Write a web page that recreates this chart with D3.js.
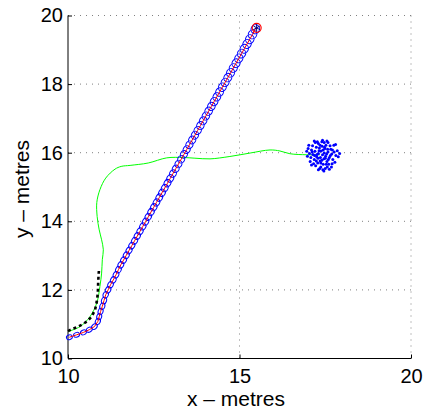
<!DOCTYPE html>
<html>
<head>
<meta charset="utf-8">
<script src="https://cdn.jsdelivr.net/npm/d3@7"></script>
<style>
  html, body { margin: 0; padding: 0; background: #fff; }
  svg { display: block; }
  text { font-family: "Liberation Sans", Arial, Helvetica, sans-serif; }
</style>
</head>
<body>
<svg id="chart" width="429" height="413"></svg>
<script>
// Axis ticks
const xTicks = [10, 15, 20];
const yTicks = [10, 12, 14, 16, 18, 20];

// Estimated pose track (red line with blue uncertainty ellipses)
const poseX = [10.04, 10.25, 10.45, 10.62, 10.77, 10.87, 10.91, 10.95, 11.00, 11.05,
  11.10, 11.17, 11.24, 11.32, 11.40, 11.47, 11.54, 11.62, 11.70, 11.78,
  11.86, 11.94, 12.02, 12.10, 12.18, 12.26, 12.34, 12.42, 12.50, 12.58,
  12.66, 12.74, 12.82, 12.90, 12.98, 13.06, 13.14, 13.22, 13.30, 13.38,
  13.46, 13.54, 13.62, 13.70, 13.78, 13.86, 13.94, 14.02, 14.10, 14.18,
  14.26, 14.34, 14.42, 14.50, 14.58, 14.66, 14.74, 14.82, 14.90, 14.98,
  15.06, 15.14, 15.22, 15.30, 15.38, 15.46];
const poseY = [10.62, 10.69, 10.76, 10.84, 10.93, 11.08, 11.22, 11.37, 11.52, 11.69,
  11.86, 12.00, 12.15, 12.29, 12.44, 12.59, 12.73, 12.87, 13.01, 13.15,
  13.29, 13.43, 13.57, 13.71, 13.85, 13.99, 14.13, 14.27, 14.41, 14.55,
  14.69, 14.83, 14.97, 15.11, 15.25, 15.39, 15.53, 15.67, 15.81, 15.95,
  16.09, 16.23, 16.37, 16.51, 16.65, 16.79, 16.93, 17.07, 17.21, 17.35,
  17.49, 17.63, 17.77, 17.91, 18.05, 18.19, 18.33, 18.47, 18.61, 18.75,
  18.89, 19.03, 19.17, 19.31, 19.45, 19.60];

// Goal position
const goalX = [15.50];
const goalY = [19.64];

// Odometry track (green)
const odoX = [10.01, 10.35, 10.64, 10.84, 10.93, 10.98, 11.00, 11.03, 10.98, 10.91,
  10.85, 10.84, 10.93, 11.10, 11.37, 11.55, 11.81, 12.34, 12.88, 13.36,
  13.70, 14.14, 14.72, 15.31, 15.89, 16.18, 16.47, 16.96, 17.35];
const odoY = [10.79, 10.93, 11.22, 11.62, 12.10, 12.49, 12.88, 13.17, 13.46, 13.75,
  14.14, 14.55, 14.92, 15.26, 15.52, 15.60, 15.63, 15.70, 15.85, 15.86,
  15.84, 15.82, 15.89, 15.99, 16.08, 16.05, 15.97, 15.94, 15.94];

// Measured fixes (black dashed)
const fixX = [10.00, 10.04, 10.20, 10.40, 10.55, 10.69, 10.79, 10.84, 10.87, 10.88, 10.90];
const fixY = [10.80, 10.82, 10.89, 10.98, 11.08, 11.22, 11.42, 11.66, 11.91, 12.24, 12.55];

// Particle cloud (blue dots)
const cloudX = [17.42, 17.30, 17.51, 17.38, 17.46, 17.25, 17.58, 17.35, 17.49, 17.20,
  17.62, 17.41, 17.28, 17.55, 17.14, 17.69, 17.33, 17.52, 17.44, 17.18,
  17.66, 17.24, 17.60, 17.37, 17.10, 17.72, 17.47, 17.30, 17.08, 17.76,
  17.56, 17.22, 17.40, 17.64, 17.13, 17.81, 17.34, 17.50, 17.04, 17.70,
  17.27, 17.58, 17.00, 17.85, 17.16, 17.43, 17.75, 17.06, 17.62, 17.21,
  17.36, 17.47, 17.26, 17.54, 17.40, 17.32, 17.44, 17.50, 17.29, 17.57,
  17.19, 17.65, 17.37, 17.48, 17.12, 17.71, 17.24, 17.59, 17.35, 17.53,
  16.98, 17.88, 17.42, 17.30, 17.80, 17.02, 17.68, 17.10, 17.92, 16.96,
  17.55, 17.18, 17.78, 17.46];
const cloudY = [15.94, 15.98, 15.90, 16.05, 15.82, 15.88, 16.02, 15.76, 16.12, 16.04,
  15.86, 16.19, 15.70, 15.74, 15.95, 15.96, 16.14, 16.22, 15.66, 15.80,
  16.10, 16.16, 15.66, 15.58, 16.08, 15.80, 16.30, 16.27, 15.86, 16.02,
  15.58, 15.62, 16.32, 16.20, 16.20, 15.92, 15.54, 15.54, 15.98, 15.68,
  16.32, 16.30, 16.12, 16.06, 15.68, 15.50, 16.22, 15.74, 15.52, 16.30,
  15.86, 15.99, 15.95, 15.96, 15.78, 16.06, 16.08, 15.84, 15.84, 16.10,
  15.92, 15.92, 15.70, 16.16, 16.02, 16.08, 15.76, 15.80, 16.22, 15.66,
  15.90, 15.88, 16.36, 15.50, 16.24, 16.22, 15.58, 15.64, 15.98, 16.04,
  16.34, 16.34, 15.72, 15.47];

const svg = d3.select("#chart");
const mLeft = 68, mRight = 411, mTop = 15.5, mBottom = 358.5;

const x = d3.scaleLinear().domain([10, 20]).range([mLeft, mRight]);
const y = d3.scaleLinear().domain([10, 20]).range([mBottom, mTop]);

// Dotted grid
const grid = svg.append("g").attr("stroke", "#808080").attr("stroke-width", 1)
  .attr("stroke-dasharray", "1,5").attr("fill", "none");
grid.selectAll("line.gx").data(xTicks.filter(v => v > 10)).join("line")
  .attr("class", "gx")
  .attr("x1", d => x(d)).attr("x2", d => x(d))
  .attr("y1", mBottom).attr("y2", mTop);
grid.selectAll("line.gy").data(yTicks.filter(v => v > 10)).join("line")
  .attr("class", "gy")
  .attr("y1", d => y(d)).attr("y2", d => y(d))
  .attr("x1", mLeft).attr("x2", mRight);

// Axes
const xAxis = d3.axisBottom(x).tickValues(xTicks).tickSize(-4).tickPadding(10);
const yAxis = d3.axisLeft(y).tickValues(yTicks).tickSize(-4).tickPadding(5);

const gx = svg.append("g").attr("transform", `translate(0,${mBottom})`).call(xAxis);
const gy = svg.append("g").attr("transform", `translate(${mLeft},0)`).call(yAxis);
[gx, gy].forEach(g => {
  g.select(".domain").attr("stroke", "#000").attr("stroke-width", 1);
  g.selectAll(".tick line").attr("stroke", "#000");
  g.selectAll(".tick text").attr("fill", "#000")
    .style("font-size", "20px").style("font-family", "'Liberation Sans', Arial, sans-serif");
});
gx.select(".domain").attr("d", `M${mLeft},0H${mRight}`);
gy.select(".domain").attr("d", `M0,${mBottom}V${mTop}`);

// Axis titles
svg.append("text").attr("x", 236).attr("y", 406).attr("text-anchor", "middle")
  .style("font-size", "21px").text("x – metres");
svg.append("text").attr("transform", `translate(29,${(mTop + mBottom) / 2 + 2}) rotate(-90)`)
  .attr("text-anchor", "middle").style("font-size", "21px").text("y – metres");

const plot = svg.append("g");

const line = d3.line().x(d => x(d[0])).y(d => y(d[1]));
const smooth = d3.line().x(d => x(d[0])).y(d => y(d[1])).curve(d3.curveCatmullRom.alpha(0.5));

// Odometry
plot.append("path").datum(d3.zip(odoX, odoY)).attr("d", smooth)
  .attr("fill", "none").attr("stroke", "#00ff00").attr("stroke-width", 1);

// Measured fixes
plot.append("path").datum(d3.zip(fixX, fixY)).attr("d", line)
  .attr("fill", "none").attr("stroke", "#000").attr("stroke-width", 2.6)
  .attr("stroke-dasharray", "3,3");

// Particle cloud
plot.append("g").selectAll("circle").data(d3.zip(cloudX, cloudY)).join("circle")
  .attr("cx", d => x(d[0])).attr("cy", d => y(d[1])).attr("r", 1.5)
  .attr("fill", "#0000ff");

// Uncertainty ellipses along the pose track, growing along the run
const poses = d3.zip(poseX, poseY);
const n = poses.length;
plot.append("g").selectAll("ellipse").data(poses).join("ellipse")
  .attr("transform", (d, i) => {
    const a = poses[Math.max(0, i - 1)], b = poses[Math.min(n - 1, i + 1)];
    const ang = Math.atan2(y(b[1]) - y(a[1]), x(b[0]) - x(a[0])) * 180 / Math.PI;
    return `translate(${x(d[0])},${y(d[1])}) rotate(${ang})`;
  })
  .attr("rx", (d, i) => 3.0 + 1.6 * i / (n - 1))
  .attr("ry", (d, i) => 2.3 + 1.9 * i / (n - 1))
  .attr("fill", "none").attr("stroke", "#0000ff").attr("stroke-width", 1);

// Pose track
plot.append("path").datum(poses.concat(d3.zip(goalX, goalY))).attr("d", line)
  .attr("fill", "none").attr("stroke", "#ff0000").attr("stroke-width", 1);

// Goal marker
const goal = d3.zip(goalX, goalY);
plot.append("g").selectAll("circle").data(goal).join("circle")
  .attr("cx", d => x(d[0])).attr("cy", d => y(d[1])).attr("r", 4.5)
  .attr("fill", "none").attr("stroke", "#ff0000").attr("stroke-width", 1.2);
plot.append("g").selectAll("path").data(goal).join("path")
  .attr("transform", d => `translate(${x(d[0])},${y(d[1])})`)
  .attr("d", d3.symbol(d3.symbolAsterisk, 40))
  .attr("fill", "none").attr("stroke", "#000080").attr("stroke-width", 1);
</script>
</body>
</html>
